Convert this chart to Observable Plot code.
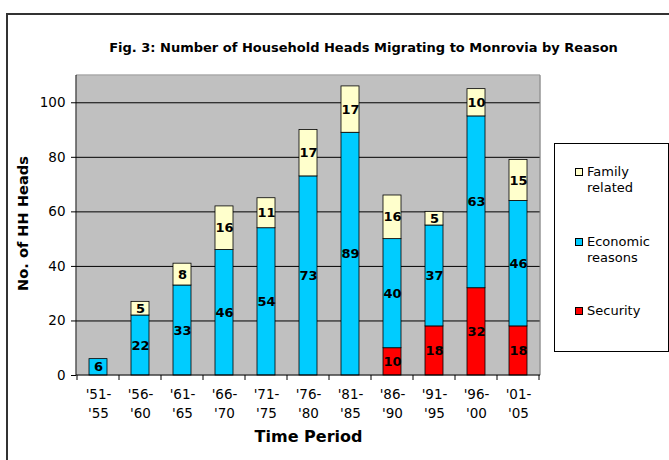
<!DOCTYPE html>
<html>
<head>
<meta charset="utf-8">
<script src="https://cdn.jsdelivr.net/npm/d3@7"></script>
<script src="https://cdn.jsdelivr.net/npm/@observablehq/plot@0.6"></script>
<style>
  html, body { margin: 0; padding: 0; background: #fff; overflow: hidden; }
  #chart { position: relative; width: 669px; height: 460px; font-family: "DejaVu Sans", Verdana, sans-serif; color: #000; }
  #border { position: absolute; left: 6px; top: 13px; width: 720px; height: 520px; border: 2px solid #333; box-sizing: border-box; pointer-events: none; }
  #legend { position: absolute; left: 554px; top: 143px; width: 115px; height: 209px; border: 1px solid #000; box-sizing: border-box; background: #fff; font-size: 13px; line-height: 16px; }
  .item { position: absolute; left: 20px; }
  .sw { position: absolute; left: 0; top: 4px; width: 6px; height: 6px; border: 1px solid #000; }
  .lab { position: absolute; left: 12px; top: 0; white-space: nowrap; }
</style>
</head>
<body>
<div id="chart">
  <div id="border"></div>
</div>
<script>
// Household heads migrating to Monrovia, by five-year period and reason
const periods = ["'51-'55", "'56-'60", "'61-'65", "'66-'70", "'71-'75", "'76-'80", "'81-'85", "'86-'90", "'91-'95", "'96-'00", "'01-'05"];
const security = [0, 0, 0, 0, 0, 0, 0, 10, 18, 32, 18];
const economic = [6, 22, 33, 46, 54, 73, 89, 40, 37, 63, 46];
const family   = [0, 5, 8, 16, 11, 17, 17, 16, 5, 10, 15];
const seriesNames  = ["Security", "Economic reasons", "Family related"];
const seriesColors = ["#ff0000", "#00ccff", "#ffffcc"];
const legendOrder  = ["Family related", "Economic reasons", "Security"];
const yTicks = [0, 20, 40, 60, 80, 100];
const titleText = "Fig. 3: Number of Household Heads Migrating to Monrovia by Reason";

// long-form rows, stacked bottom-up: security, economic, family
const rows = periods.flatMap((p, i) => [
  {period: p, series: seriesNames[0], value: security[i]},
  {period: p, series: seriesNames[1], value: economic[i]},
  {period: p, series: seriesNames[2], value: family[i]}
]);

// plot-area edges: gray top/right, black axes left/bottom, and x ticks between categories
function frameAndTicks(index, scales, values, dims) {
  const {x} = scales;
  const l = dims.marginLeft, r = dims.width - dims.marginRight;
  const t = dims.marginTop, b = dims.height - dims.marginBottom;
  const g = d3.create("svg:g");
  g.append("path").attr("d", `M${l},${t}H${r}V${b}`).attr("fill", "none").attr("stroke", "#808080");
  g.append("path").attr("d", `M${l},${t}V${b}H${r}`).attr("fill", "none").attr("stroke", "#000");
  const gap = (x.step() - x.bandwidth()) / 2;
  const edges = periods.map(p => x(p) - gap).concat([x(periods[periods.length - 1]) + x.bandwidth() + gap]);
  g.selectAll("line.t").data(edges).join("line")
    .attr("x1", d => d).attr("x2", d => d)
    .attr("y1", b).attr("y2", b + 5)
    .attr("stroke", "#000");
  return g.node();
}

const plot = Plot.plot({
  width: 669,
  height: 460,
  marginLeft: 76,
  marginRight: 129,
  marginTop: 75,
  marginBottom: 85,
  style: {fontFamily: "DejaVu Sans, Verdana, sans-serif", fontSize: "13px", color: "#000", background: "transparent"},
  x: {domain: periods, paddingInner: 0.58, paddingOuter: 0.29},
  y: {domain: [0, 110]},
  color: {domain: seriesNames, range: seriesColors},
  marks: [
    Plot.frame({fill: "#c0c0c0", stroke: null}),
    Plot.gridY(yTicks.slice(1), {stroke: "#000", strokeOpacity: 1, strokeWidth: 1}),
    Plot.barY(rows, {x: "period", y: "value", fill: "series", stroke: "#000", strokeWidth: 0.8}),
    Plot.text(rows.filter(d => d.value > 0), Plot.stackY({
      x: "period", y: "value", z: "series", text: d => String(d.value),
      fontWeight: "bold", fontSize: 13, fill: "#000"
    })),
    frameAndTicks,
    Plot.axisY(yTicks, {tickSize: 5, tickPadding: 6, label: null, fontSize: 13.5}),
    Plot.axisX({tickSize: 0, tickPadding: 10, label: null, fontSize: 13.5, lineHeight: 1.4,
      tickFormat: d => d.replace("-", "-\n")}),
    Plot.text(["Time Period"], {frameAnchor: "bottom", lineAnchor: "middle", dy: 61, fontWeight: "bold", fontSize: 16}),
    Plot.text(["No. of HH Heads"], {frameAnchor: "left", textAnchor: "middle", rotate: -90, dx: -53, dy: -2, fontWeight: "bold", fontSize: 14.6}),
    Plot.text([titleText], {frameAnchor: "top", lineAnchor: "middle", dy: -28, dx: 55, fontWeight: "bold", fontSize: 13})
  ]
});

const chart = document.getElementById("chart");
chart.insertBefore(plot, chart.firstChild);

// legend box at right
const legend = document.createElement("div");
legend.id = "legend";
const tops = [20, 90, 159];
legendOrder.forEach((name, i) => {
  const item = document.createElement("div");
  item.className = "item";
  item.style.top = tops[i] + "px";
  const sw = document.createElement("div");
  sw.className = "sw";
  sw.style.background = seriesColors[seriesNames.indexOf(name)];
  const lab = document.createElement("div");
  lab.className = "lab";
  lab.innerHTML = name.replace(" ", "<br>");
  item.appendChild(sw);
  item.appendChild(lab);
  legend.appendChild(item);
});
chart.appendChild(legend);
</script>
</body>
</html>
